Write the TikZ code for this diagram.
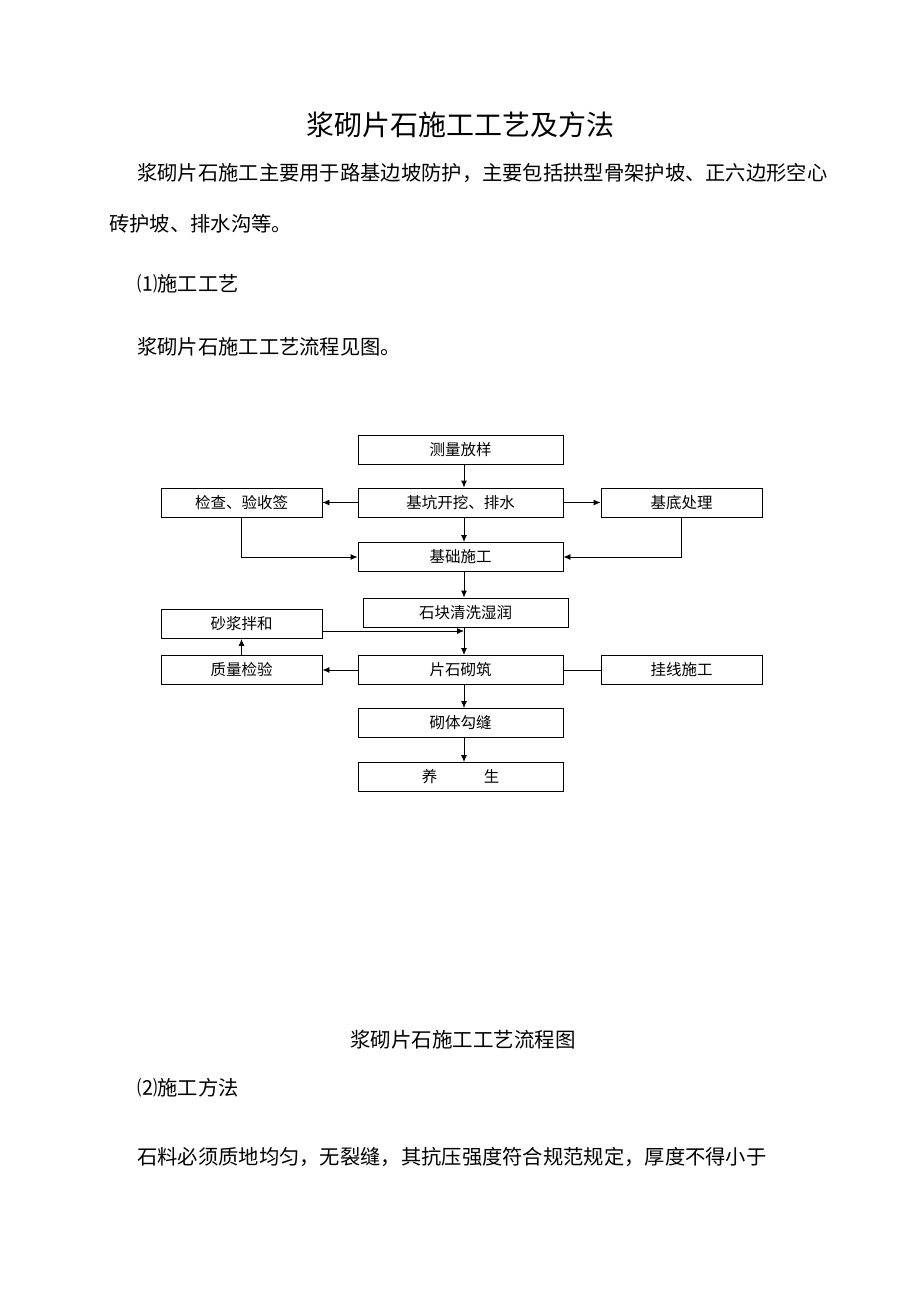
\documentclass[tikz,border=0pt]{standalone}
\usepackage{fontspec}
\setmainfont{Noto Sans CJK SC}
\usetikzlibrary{arrows.meta}
\begin{document}
\begin{tikzpicture}[x=1pt,y=-1pt,
 box/.style={draw,line width=0.9pt,minimum width=205pt,minimum height=29pt,inner sep=0pt,font=\fontsize{15.5}{15.5}\selectfont},
 sbox/.style={box,minimum width=161pt},
 arr/.style={-{Latex[length=7pt,width=6pt]},line width=0.9pt},
 ln/.style={line width=0.9pt},
 txt/.style={anchor=west,inner sep=0pt,font=\fontsize{20.3}{20.3}\selectfont}]
\useasboundingbox (0,0) rectangle (920,1302);
\node[font=\fontsize{28}{28}\selectfont] (title) at (460,125) {浆砌片石施工工艺及方法};
\node[txt] (p1) at (137,173) {浆砌片石施工主要用于路基边坡防护，主要包括拱型骨架护坡、正六边形空心};
\node[txt] (p2) at (109,224) {砖护坡、排水沟等。};
\node[txt] (p3) at (137,284) {⑴施工工艺};
\node[txt] (p4) at (137,347) {浆砌片石施工工艺流程见图。};
\node[box] (a) at (460.5,449.5) {测量放样};
\node[box] (b) at (460.5,502.5) {基坑开挖、排水};
\node[sbox] (l1) at (241.5,502.5) {检查、验收签};
\node[sbox] (r1) at (681.5,502.5) {基底处理};
\node[box] (c) at (460.5,557) {基础施工};
\node[box] (d) at (465.5,612.5) {石块清洗湿润};
\node[sbox] (l2) at (241.5,624) {砂浆拌和};
\node[sbox] (l3) at (241.5,670) {质量检验};
\node[box] (e) at (460.5,670) {片石砌筑};
\node[sbox] (r3) at (681.5,670) {挂线施工};
\node[box] (f) at (460.5,723) {砌体勾缝};
\node[box] (g) at (460.5,777) {养\hspace{3em}生};
\coordinate (x) at (464,0);
\draw[arr] (a.south -| x) -- (b.north -| x);
\draw[arr] (b.south -| x) -- (c.north -| x);
\draw[arr] (c.south -| x) -- (d.north -| x);
\draw[arr] (d.south -| x) -- (e.north -| x);
\draw[arr] (e.south -| x) -- (f.north -| x);
\draw[arr] (f.south -| x) -- (g.north -| x);
\draw[arr] (b.west) -- (l1.east);
\draw[arr] (b.east) -- (r1.west);
\draw[arr] (l1.south) |- (c.west);
\draw[arr] (r1.south) |- (c.east);
\coordinate (m) at (464,631);
\draw[arr] (l2.east |- m) -- (m);
\draw[arr] (l3.north) -- (l2.south);
\draw[arr] (e.west) -- (l3.east);
\draw[ln] (r3.west) -- (e.east);
\node[font=\fontsize{20.5}{20.5}\selectfont] (cap) at (463,1040) {浆砌片石施工工艺流程图};
\node[txt] (p5) at (137,1088) {⑵施工方法};
\node[txt] (p6) at (137,1157) {石料必须质地均匀，无裂缝，其抗压强度符合规范规定，厚度不得小于};
\end{tikzpicture}
\end{document}
